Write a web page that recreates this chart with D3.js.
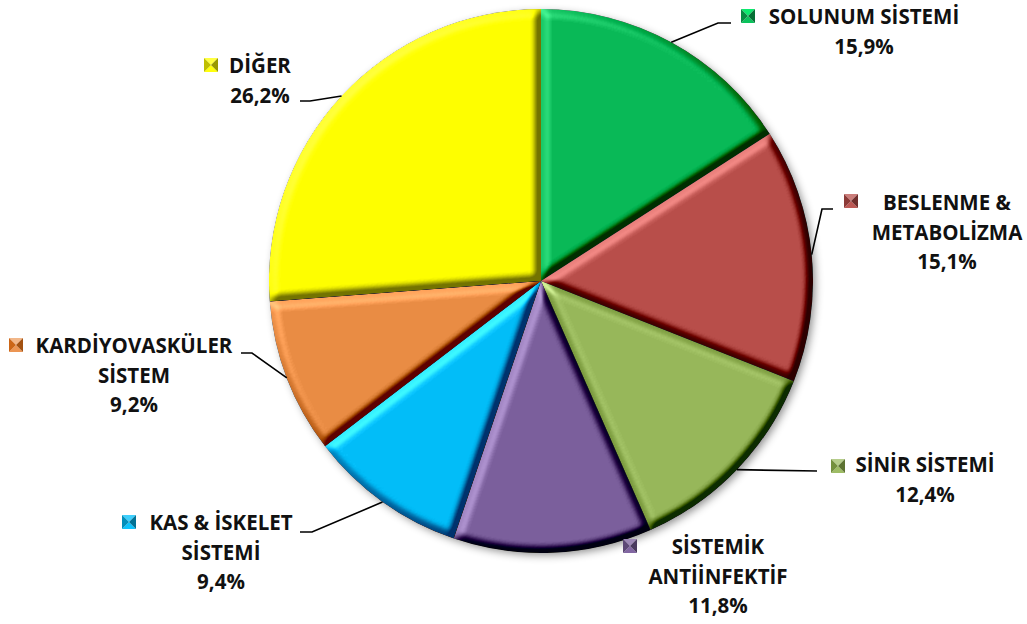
<!DOCTYPE html>
<html><head><meta charset="utf-8">
<script src="https://cdn.jsdelivr.net/npm/d3@7"></script>
<style>body{margin:0;background:#fff}svg{display:block}</style>
</head><body>
<script>
const categories = ["SOLUNUM SİSTEMİ","BESLENME & METABOLİZMA","SİNİR SİSTEMİ","SİSTEMİK ANTİİNFEKTİF","KAS & İSKELET SİSTEMİ","KARDİYOVASKÜLER SİSTEM","DİĞER"];
const values = [15.9, 15.1, 12.4, 11.8, 9.4, 9.2, 26.2];
const valueLabels = ["15,9%","15,1%","12,4%","11,8%","9,4%","9,2%","26,2%"];
const labelLines = [["SOLUNUM SİSTEMİ"],["BESLENME &","METABOLİZMA"],["SİNİR SİSTEMİ"],["SİSTEMİK","ANTİİNFEKTİF"],["KAS & İSKELET","SİSTEMİ"],["KARDİYOVASKÜLER","SİSTEM"],["DİĞER"]];
const colors = ["#0ABA58","#B94F4B","#98B85B","#7C609D","#03BEF9","#EA8D45","#FFFF00"];

const W=1027,H=624, cx=541, cy=281, R=272;
const labelPos = [
  {x:864,y:17,mx:748,my:16,elbow:[718,23],end:[731,23]},
  {x:947,y:203,mx:851,my:201,elbow:[822,209],end:[833,209]},
  {x:925,y:465,mx:838,my:466,elbow:[817,471],end:[817,471]},
  {x:718,y:547,mx:630,my:546,elbow:null,end:null},
  {x:221,y:523,mx:129,my:522,elbow:[312,532],end:[300,532]},
  {x:134,y:346,mx:16,my:345,elbow:[252,353],end:[241,353]},
  {x:260,y:66,mx:211,my:65,elbow:[310,101],end:[300,101]}
];

const svg=d3.select("body").append("svg").attr("width",W).attr("height",H);
const defs=svg.append("defs");
const sh=defs.append("filter").attr("id","shadow").attr("x","-10%").attr("y","-10%").attr("width","130%").attr("height","130%");
sh.append("feDropShadow").attr("dx",3).attr("dy",3).attr("stdDeviation",4).attr("flood-color","#000").attr("flood-opacity",0.45);

const bv=defs.append("filter").attr("id","bevel").attr("x","-5%").attr("y","-5%").attr("width","110%").attr("height","110%")
  .attr("color-interpolation-filters","sRGB");
bv.append("feGaussianBlur").attr("in","SourceAlpha").attr("stdDeviation",4).attr("result","blur");
const dl=bv.append("feDiffuseLighting").attr("in","blur").attr("surfaceScale",10).attr("diffuseConstant",0.707)
  .attr("lighting-color","#fff").attr("result","light");
dl.append("feDistantLight").attr("azimuth",225).attr("elevation",45);
bv.append("feComposite").attr("in","SourceGraphic").attr("in2","light").attr("operator","arithmetic")
  .attr("k1",0).attr("k2",1).attr("k3",1.1).attr("k4",-0.55).attr("result","lit");
bv.append("feComposite").attr("in","lit").attr("in2","SourceAlpha").attr("operator","in");

const pie=d3.pie().sort(null).value(d=>d)(values);
const arc=d3.arc().innerRadius(0).outerRadius(R);

const g=svg.append("g").attr("transform",`translate(${cx},${cy})`);
g.append("g").attr("filter","url(#shadow)").append("circle").attr("r",R-1).attr("fill","#888");
g.selectAll("path.slice").data(pie).join("path").attr("class","slice")
  .attr("d",arc).attr("fill",(d,i)=>colors[i]).attr("filter","url(#bevel)");

pie.forEach((d,i)=>{
  const p=labelPos[i]; if(!p.elbow) return;
  const a=(d.startAngle+d.endAngle)/2;
  const sx=cx+R*Math.sin(a), sy=cy-R*Math.cos(a);
  svg.append("polyline").attr("points",[[sx,sy],p.elbow,p.end].map(q=>q.join(",")).join(" "))
    .attr("fill","none").attr("stroke","#000").attr("stroke-width",1.6);
});

const shade=(c,k)=>{const h=d3.hsl(c);h.l=Math.max(0,Math.min(1,h.l*k));return h.toString();};
pie.forEach((d,i)=>{
  const p=labelPos[i];
  const lines=labelLines[i].concat([valueLabels[i]]);
  const t=svg.append("text").attr("font-family","'Open Sans', Lato, sans-serif").attr("font-weight","bold")
    .attr("font-size",20.5).attr("fill","#111").attr("text-anchor","middle");
  lines.forEach((l,j)=>t.append("tspan").attr("x",p.x).attr("y",p.y+j*29.5).attr("dy","0.35em").text(l));
  const s=7, x=p.mx, y=p.my, c=colors[i];
  const m=svg.append("g");
  const tri=(pts,col)=>m.append("polygon").attr("points",pts.map(q=>q.join(",")).join(" ")).attr("fill",col);
  tri([[x-s,y-s],[x+s,y-s],[x,y]],shade(c,1.25));
  tri([[x-s,y+s],[x+s,y+s],[x,y]],shade(c,1.05));
  tri([[x-s,y-s],[x-s,y+s],[x,y]],shade(c,0.75));
  tri([[x+s,y-s],[x+s,y+s],[x,y]],shade(c,0.6));
});
</script>
</body></html>
